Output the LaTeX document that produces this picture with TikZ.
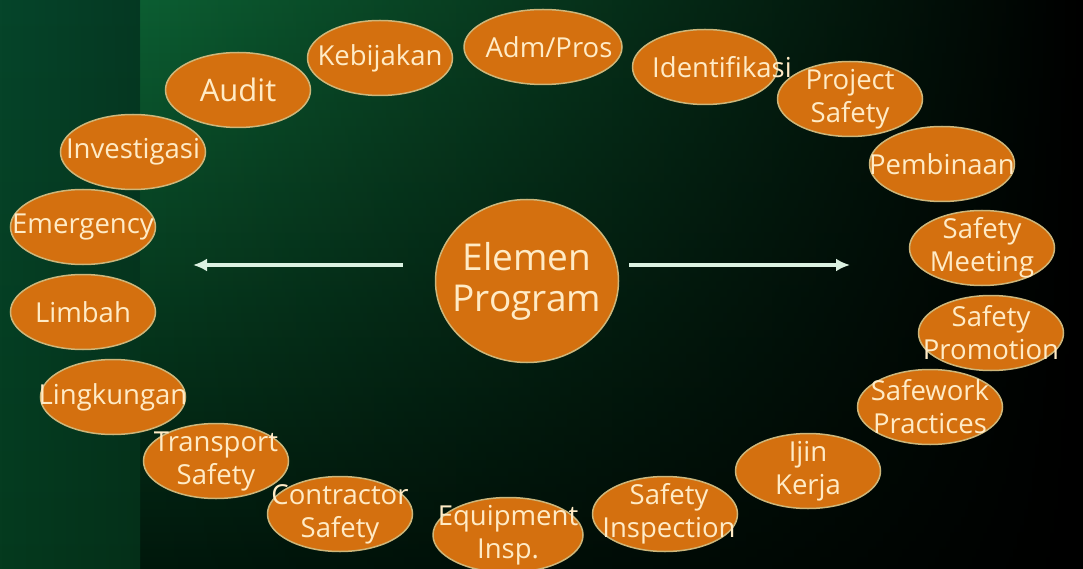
\documentclass[tikz,border=0pt]{standalone}
\usepackage{fontspec}
\setmainfont{Open Sans}
\usetikzlibrary{shapes.geometric,fadings,arrows.meta}
\definecolor{orng}{HTML}{D4700F}
\definecolor{bord}{HTML}{CDB67A}
\definecolor{cream}{HTML}{FFEBC6}
\definecolor{arrc}{HTML}{DCF2E2}
\definecolor{gtop}{HTML}{0C5E32}
\definecolor{gmid}{HTML}{03391E}
\definecolor{gbot}{HTML}{01180C}
\definecolor{stop}{HTML}{06452A}
\definecolor{smid}{HTML}{0F8C47}
\definecolor{sbot}{HTML}{053A1E}
\tikzfading[name=toright, left color=transparent!100, middle color=transparent!75, right color=transparent!0]
\tikzfading[name=stripfade, left color=transparent!100, right color=transparent!82]
\begin{document}
\begin{tikzpicture}[x=1pt,y=-1pt,
  el/.style={ellipse, draw=bord, line width=1.5pt, fill=orng, minimum width=145pt, minimum height=75pt, inner sep=0pt},
  lbl/.style={text=cream, font=\fontsize{27.5}{33}\selectfont, align=center, inner sep=0pt},
  arr/.style={draw=arrc, line width=3.5pt, -{Latex[length=14pt,width=13pt]}}]
\useasboundingbox (0,0) rectangle (1083,569);
% background
\shade[top color=gtop, middle color=gmid, bottom color=gbot] (140,0) rectangle (1083,569);
\fill[black, path fading=toright] (140,0) rectangle (1083,569);
\shade[top color=stop, middle color=smid, bottom color=sbot] (0,0) rectangle (140,569);
\fill[black, path fading=stripfade] (0,0) rectangle (140,569);
% centre
\node[el, minimum width=183pt, minimum height=163pt,
  label={[lbl, font=\fontsize{37}{41}\selectfont]center:{Elemen\\Program}}] (elemen) at (527,281) {};
% ring
\node[el, label={[lbl, font=\fontsize{31}{36}\selectfont]center:Audit}] (audit) at (238,90) {};
\node[el, label={[lbl]center:Kebijakan}] (kebij) at (380,58) {};
\node[el, minimum width=158pt, label={[lbl, xshift=6pt]center:Adm/Pros}] (adm) at (543,47) {};
\node[el, label={[lbl, xshift=17pt]center:Identifikasi}] (ident) at (705,67) {};
\node[el, label={[lbl]center:{Project\\Safety}}] (proj) at (850,99) {};
\node[el, label={[lbl]center:Pembinaan}] (pemb) at (942,164) {};
\node[el, label={[lbl]center:{Safety\\Meeting}}] (meet) at (982,248) {};
\node[el, label={[lbl]center:{Safety\\Promotion}}] (promo) at (991,333) {};
\node[el, label={[lbl]center:{Safework\\Practices}}] (safew) at (930,407) {};
\node[el, label={[lbl]center:{Ijin\\Kerja}}] (ijin) at (808,471) {};
\node[el, label={[lbl, xshift=4pt]center:{Safety\\Inspection}}] (insp) at (665,514) {};
\node[el, minimum width=150pt, label={[lbl]center:{Equipment\\Insp.}}] (equip) at (508,535) {};
\node[el, label={[lbl]center:{Contractor\\Safety}}] (contr) at (340,514) {};
\node[el, label={[lbl]center:{Transport\\Safety}}] (trans) at (216,461) {};
\node[el, label={[lbl]center:Lingkungan}] (lingk) at (113,397) {};
\node[el, label={[lbl]center:Limbah}] (limb) at (83,312) {};
\node[el, label={[lbl]center:Emergency}] (emerg) at (83,227) {};
\node[el, label={[lbl]center:Investigasi}] (invest) at (133,152) {};
% arrows
\coordinate (lto) at (193,265);
\coordinate (rto) at (850,265);
\draw[arr] ([shift={(-32,-16)}]elemen.west) -- (lto);
\draw[arr] ([shift={(10,-16)}]elemen.east) -- (rto);
\end{tikzpicture}
\end{document}
